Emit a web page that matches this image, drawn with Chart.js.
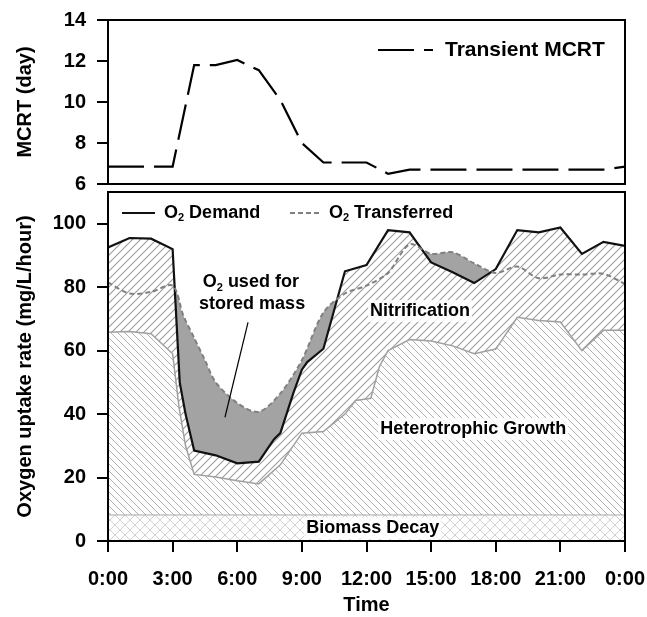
<!DOCTYPE html>
<html>
<head>
<meta charset="utf-8">
<script src="https://cdn.jsdelivr.net/npm/chart.js@4.4.0/dist/chart.umd.min.js"></script>
<style>
    body { margin: 0; background: #fff; }
    #mcrtBox { position: absolute; left: 0; top: 0; width: 647px; height: 200px; }
    #oxyBox { position: absolute; left: 0; top: 180px; width: 647px; height: 437px; }
</style>
</head>
<body>
<div id="mcrtBox"><canvas id="mcrtChart"></canvas></div>
<div id="oxyBox"><canvas id="oxygenChart"></canvas></div>
<script>
const FAMILY = "'Liberation Sans', Arial, sans-serif";

// x axis (hours of day)
const hourTicks = [0, 3, 6, 9, 12, 15, 18, 21, 24];
const hourLabels = ["0:00", "3:00", "6:00", "9:00", "12:00", "15:00", "18:00", "21:00", "0:00"];

// top panel: transient MCRT (day)
const mcrtTicks = [6, 8, 10, 12, 14];
const mcrtHours = [0, 1, 2, 3, 4, 5, 6, 7, 8, 9, 10, 11, 12, 13, 14, 15, 16, 17, 18, 19, 20, 21, 22, 23, 24];
const mcrt = [6.85, 6.85, 6.85, 6.85, 11.8, 11.8, 12.05, 11.55, 10.1, 8.0, 7.05, 7.05, 7.05, 6.5, 6.7, 6.7, 6.7, 6.7, 6.7, 6.7, 6.7, 6.7, 6.7, 6.7, 6.85];

// bottom panel: oxygen uptake rate (mg/L/hour)
const oxyTicks = [0, 20, 40, 60, 80, 100];
const demandHours = [0, 1, 2, 3, 3.33, 3.6, 4, 5, 6, 7, 7.7, 8, 8.6, 9, 9.25, 10, 11, 12, 13, 14, 15, 16, 17, 18, 19, 20, 21, 22, 23, 24];
const demand = [92.5, 95.5, 95.3, 92, 50, 40, 28.5, 27, 24.5, 25, 32, 34, 46.5, 54, 56.4, 60.6, 85, 87, 98, 97.3, 87.8, 84.7, 81.3, 85.7, 98, 97.3, 98.8, 90.5, 94.3, 93];
const transferredHours = [0, 1, 2, 3, 3.5, 4, 4.5, 5, 6, 7, 8, 9, 10, 11, 12, 13, 14, 15, 16, 17, 18, 19, 20, 21, 22, 23, 24];
const transferred = [81.5, 78, 78.5, 80.5, 71, 64, 57, 50, 43.5, 40.7, 46.5, 57, 72, 78, 80.5, 84.5, 93.5, 90.5, 91, 87.5, 84.5, 86.5, 82.8, 84, 84, 84.2, 81];
const heteroHours = [0, 1, 2, 3, 3.3, 3.6, 4, 5, 6, 7, 8, 9, 10, 11, 11.5, 12.2, 12.6, 13, 14, 15, 16, 17, 18, 19, 20, 21, 22, 23, 24];
const hetero = [65.8, 66, 65.3, 59, 42, 30, 21, 20.2, 19, 18, 24, 34, 34.5, 40, 44.3, 45, 55, 60, 63.5, 63, 61.5, 59, 60.5, 70.5, 69.5, 69, 60, 66.4, 66.4];
const decayHours = [0, 24];
const decay = [8.2, 8.2];

const pts = (xs, ys) => xs.map((x, i) => ({ x: x, y: ys[i] }));
const font = (size) => ({ family: FAMILY, size: size, weight: "bold" });

// hatch fills
function hatch(size, color, width, dir, cross) {
    const c = document.createElement("canvas");
    c.width = size;
    c.height = size;
    const g = c.getContext("2d");
    g.fillStyle = "#fff";
    g.fillRect(0, 0, size, size);
    g.strokeStyle = color;
    g.lineWidth = width;
    const line = (d) => {
        g.beginPath();
        if (d > 0) {
            g.moveTo(-1, size + 1); g.lineTo(size + 1, -1);
            g.moveTo(-1, 1); g.lineTo(1, -1);
            g.moveTo(size - 1, size + 1); g.lineTo(size + 1, size - 1);
        } else {
            g.moveTo(-1, -1); g.lineTo(size + 1, size + 1);
            g.moveTo(size - 1, -1); g.lineTo(size + 1, 1);
            g.moveTo(-1, size - 1); g.lineTo(1, size + 1);
        }
        g.stroke();
    };
    line(dir);
    if (cross) line(-dir);
    return g.createPattern(c, "repeat");
}

const nitroFill = hatch(8, "#9c9c9c", 1.1, 1, false);
const heteroFill = hatch(7, "#b0b0b0", 1, -1, false);
const decayFill = hatch(10, "#d2d2d2", 1, 1, true);

// width of text with a subscript part
function richWidth(ctx, parts, size) {
    let w = 0;
    parts.forEach(([t, sub]) => {
        ctx.font = `bold ${sub ? Math.round(size * 0.62) : size}px ${FAMILY}`;
        w += ctx.measureText(t).width;
    });
    return w;
}

// text with a subscript part, starting at x
function richText(ctx, parts, x, cy, size) {
    ctx.textAlign = "left";
    ctx.textBaseline = "middle";
    parts.forEach(([t, sub]) => {
        ctx.font = `bold ${sub ? Math.round(size * 0.62) : size}px ${FAMILY}`;
        ctx.fillText(t, x, sub ? cy + size * 0.3 : cy);
        x += ctx.measureText(t).width;
    });
}

// plot frame
const frame = {
    id: "frame",
    afterDraw(chart) {
        const { ctx, chartArea: a } = chart;
        ctx.save();
        ctx.strokeStyle = "#000";
        ctx.lineWidth = 2;
        ctx.strokeRect(a.left, a.top, a.right - a.left, a.bottom - a.top);
        ctx.restore();
    },
};

// line legend drawn inside the plot
const lineKey = {
    id: "lineKey",
    afterDraw(chart, args, opts) {
        const ctx = chart.ctx;
        (opts.items || []).forEach((it) => {
            const ds = chart.data.datasets[it.ds];
            ctx.save();
            ctx.strokeStyle = ds.borderColor;
            ctx.lineWidth = ds.borderWidth;
            ctx.setLineDash(ds.borderDash || []);
            ctx.beginPath();
            ctx.moveTo(it.x, it.y);
            ctx.lineTo(it.x + it.len, it.y);
            ctx.stroke();
            ctx.setLineDash([]);
            ctx.fillStyle = "#000";
            richText(ctx, it.parts, it.x + it.len + it.gap, it.y, it.size);
            ctx.restore();
        });
    },
};

// area labels
const notes = [
    { parts: [["O"], ["2", true], [" used for"]], x: 6.63, y: 81.5 },
    { parts: [["stored mass"]], x: 6.69, y: 74.8 },
    { parts: [["Nitrification"]], x: 14.48, y: 72.5, bg: true },
    { parts: [["Heterotrophic Growth"]], x: 16.95, y: 35.3, bg: true },
    { parts: [["Biomass Decay"]], x: 12.29, y: 4.0, bg: true },
];
const pointer = [{ x: 6.5, y: 68.9 }, { x: 5.43, y: 39 }];

const areaNotes = {
    id: "areaNotes",
    afterDatasetsDraw(chart) {
        const { ctx, scales } = chart;
        ctx.save();
        ctx.strokeStyle = "#000";
        ctx.lineWidth = 1.2;
        ctx.beginPath();
        ctx.moveTo(scales.x.getPixelForValue(pointer[0].x), scales.y.getPixelForValue(pointer[0].y));
        ctx.lineTo(scales.x.getPixelForValue(pointer[1].x), scales.y.getPixelForValue(pointer[1].y));
        ctx.stroke();
        notes.forEach((n) => {
            const cx = scales.x.getPixelForValue(n.x);
            const cy = scales.y.getPixelForValue(n.y);
            const w = richWidth(ctx, n.parts, 18);
            if (n.bg) {
                ctx.fillStyle = "rgba(255,255,255,0.85)";
                ctx.fillRect(cx - w / 2 - 2, cy - 11, w + 4, 22);
            }
            ctx.fillStyle = "#000";
            richText(ctx, n.parts, cx - w / 2, cy, 18);
        });
        ctx.restore();
    },
};

const yAxis = (min, max, ticks, title) => ({
    min: min,
    max: max,
    afterBuildTicks: (s) => { s.ticks = ticks.map((v) => ({ value: v })); },
    afterFit: (s) => {
        s.width = 108;
        s.paddingTop = 0;
        s.paddingBottom = 0;
    },
    grid: { drawOnChartArea: false, tickLength: 11, color: "#000", lineWidth: 2 },
    border: { color: "#000", width: 2 },
    ticks: { color: "#000", font: font(20), padding: 11 },
    title: { display: true, text: title, color: "#000", font: font(20), padding: { top: 13, bottom: 0 } },
});

// MCRT chart
new Chart(document.getElementById("mcrtChart"), {
    type: "line",
    data: {
        datasets: [
            {
                label: "Transient MCRT",
                data: pts(mcrtHours, mcrt),
                borderColor: "#000",
                borderWidth: 2.2,
                borderDash: [36, 10],
                pointRadius: 0,
                fill: false,
            },
        ],
    },
    options: {
        responsive: true,
        maintainAspectRatio: false,
        animation: false,
        layout: { padding: { top: 20, right: 22, bottom: 16, left: 0 } },
        scales: {
            x: { type: "linear", min: 0, max: 24, display: false },
            y: yAxis(6, 14, mcrtTicks, "MCRT (day)"),
        },
        plugins: {
            legend: { display: false },
            tooltip: { enabled: false },
            lineKey: {
                items: [{ ds: 0, x: 378, y: 50, len: 55, gap: 12, size: 21, parts: [["Transient MCRT"]] }],
            },
        },
    },
    plugins: [frame, lineKey],
});

// Oxygen uptake chart
new Chart(document.getElementById("oxygenChart"), {
    type: "line",
    data: {
        datasets: [
            {
                label: "O2 Transferred",
                data: pts(transferredHours, transferred),
                borderColor: "#808080",
                borderWidth: 2,
                borderDash: [5, 3],
                tension: 0.3,
                fill: { target: 1, above: "#a3a3a3", below: "rgba(0,0,0,0)" },
            },
            {
                label: "O2 Demand",
                data: pts(demandHours, demand),
                borderColor: "#111",
                borderWidth: 2.2,
                backgroundColor: nitroFill,
                fill: 2,
            },
            {
                label: "Heterotrophic Growth",
                data: pts(heteroHours, hetero),
                borderColor: "#a0a0a0",
                borderWidth: 1.5,
                backgroundColor: heteroFill,
                fill: 3,
            },
            {
                label: "Biomass Decay",
                data: pts(decayHours, decay),
                borderColor: "#a8a8a8",
                borderWidth: 1,
                backgroundColor: decayFill,
                fill: "origin",
            },
        ],
    },
    options: {
        responsive: true,
        maintainAspectRatio: false,
        animation: false,
        elements: { point: { radius: 0 } },
        layout: { padding: { top: 12, right: 22, bottom: 0, left: 0 } },
        scales: {
            x: {
                type: "linear",
                min: 0,
                max: 24,
                afterBuildTicks: (s) => { s.ticks = hourTicks.map((v) => ({ value: v })); },
                afterFit: (s) => {
                    s.height = 76;
                    s.paddingLeft = 0;
                    s.paddingRight = 0;
                },
                grid: { drawOnChartArea: false, tickLength: 11, color: "#000", lineWidth: 2 },
                border: { color: "#000", width: 2 },
                ticks: {
                    color: "#000",
                    font: font(20),
                    padding: 15,
                    maxRotation: 0,
                    autoSkip: false,
                    callback: (v, i) => hourLabels[i],
                },
                title: { display: true, text: "Time", color: "#000", font: font(20), padding: { top: 0, bottom: 0 } },
            },
            y: yAxis(0, 110, oxyTicks, "Oxygen uptake rate (mg/L/hour)"),
        },
        plugins: {
            legend: { display: false },
            tooltip: { enabled: false },
            filler: { drawTime: "beforeDatasetsDraw" },
            lineKey: {
                items: [
                    { ds: 1, x: 122, y: 33, len: 33, gap: 9, size: 18, parts: [["O"], ["2", true], [" Demand"]] },
                    { ds: 0, x: 290, y: 33, len: 32, gap: 7, size: 18, parts: [["O"], ["2", true], [" Transferred"]] },
                ],
            },
        },
    },
    plugins: [areaNotes, frame, lineKey],
});
</script>
</body>
</html>
